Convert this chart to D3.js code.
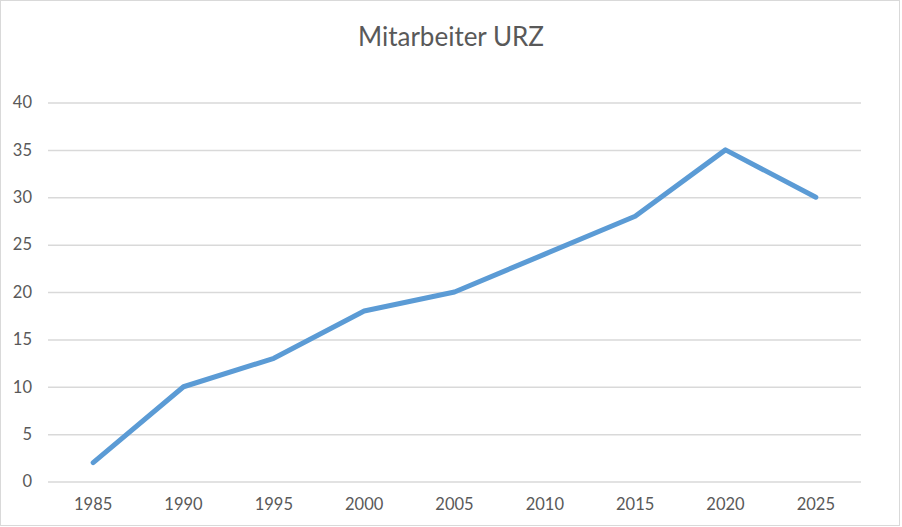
<!DOCTYPE html>
<html>
<head>
<meta charset="utf-8">
<script src="https://cdn.jsdelivr.net/npm/d3@7"></script>
<style>
html,body{margin:0;padding:0;background:#fff;}
svg{display:block;}
</style>
</head>
<body>
<svg id="chart" width="902" height="527"></svg>
<script>
const title = "Mitarbeiter URZ";
const years = ["1985","1990","1995","2000","2005","2010","2015","2020","2025"];
const staff = [2, 10, 13, 18, 20, 24, 28, 35, 30];
const yTicks = [0, 5, 10, 15, 20, 25, 30, 35, 40];

const svg = d3.select("#chart");
const font = "Lato, 'Open Sans', sans-serif";
const textColor = "#595959";

svg.append("rect").attr("x",0.5).attr("y",0.5).attr("width",899).attr("height",525)
  .attr("fill","#fff").attr("stroke","#d9d9d9").attr("stroke-width",1);

const plotLeft = 48, plotRight = 861, plotTop = 102.5, plotBottom = 481.5;

const x = d3.scaleBand().domain(years).range([plotLeft, plotRight]).padding(0);
const y = d3.scaleLinear().domain([0, 40]).range([plotBottom, plotTop]);

// gridlines
const yAxis = d3.axisLeft(y).tickValues(yTicks).tickSize(-(plotRight-plotLeft)).tickPadding(16);
const gy = svg.append("g").attr("transform", `translate(${plotLeft},0)`).call(yAxis);
gy.select(".domain").remove();
gy.selectAll(".tick line").attr("stroke","#d9d9d9").attr("stroke-width",1.5);
gy.selectAll(".tick text").attr("fill",textColor).style("font-family",font).style("font-size","16.5px");

const xAxis = d3.axisBottom(x).tickSize(0).tickPadding(17);
const gx = svg.append("g").attr("transform", `translate(0,${plotBottom})`).call(xAxis);
gx.select(".domain").remove();
gx.selectAll(".tick text").attr("fill",textColor).style("font-family",font).style("font-size","16.5px");

// line
const line = d3.line().x((d,i)=>x(years[i]) + x.bandwidth()/2).y(d=>y(d));
svg.append("path").datum(staff).attr("d", line)
  .attr("fill","none").attr("stroke","#5b9bd5").attr("stroke-width",5)
  .attr("stroke-linejoin","round").attr("stroke-linecap","round");

// title
svg.append("text").attr("x", 451).attr("y", 46).attr("text-anchor","middle")
  .attr("fill",textColor).style("font-family",font).style("font-size","26px")
  .text(title);
</script>
</body>
</html>
